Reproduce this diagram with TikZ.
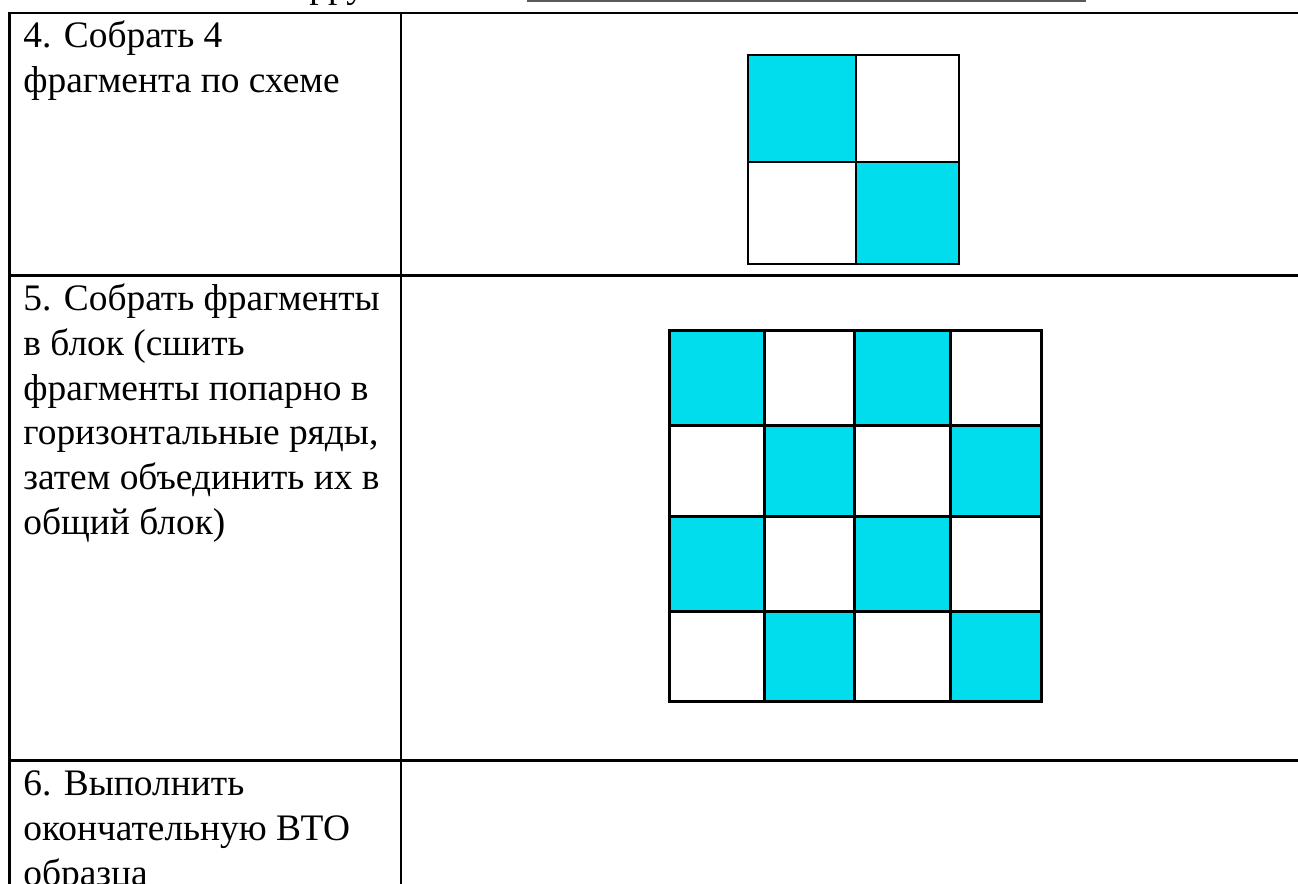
\documentclass[tikz,border=0pt]{standalone}
\usepackage{fontspec}
\setmainfont{Liberation Serif}
\definecolor{cellcyan}{RGB}{2,221,238}
\begin{document}
\begin{tikzpicture}[x=0.5pt,y=-0.5pt,
  tableline/.style={line width=1.35pt, black},
  celltext/.style={anchor=north west, inner sep=0pt, align=left, font=\fontsize{18.7}{22.4}\selectfont},
  hdrtext/.style={anchor=base west, inner sep=0pt, font=\fontsize{18.7}{22.4}\selectfont},
  smallgrid/.style={line width=0.9pt, black},
  biggrid/.style={line width=1.5pt, black},
  cyancell/.style={fill=cellcyan}]
\useasboundingbox (0,0) rectangle (1298,884);
\fill[white] (0,0) rectangle (1298,884);

% cut-off header line above the table
\node[hdrtext] (hdr) at (309,-3) {рру};
\draw[black!65, line width=1pt] (527,1) -- (1086,1);

% table rules
\draw[tableline] (8.2,13) -- (1305,13);
\draw[tableline] (9.5,13) -- (9.5,890);
\draw[tableline] (401,13) -- (401,890);
\draw[tableline] (9,275.5) -- (1305,275.5);
\draw[tableline] (9,760.5) -- (1305,760.5);

% left column texts
\node[celltext] (t4) at (23,17) {\rule{0pt}{15pt}4. Собрать 4\\фрагмента по схеме};
\node[celltext] (t5) at (23,280) {\rule{0pt}{15pt}5. Собрать фрагменты\\в блок (сшить\\фрагменты попарно в\\горизонтальные ряды,\\затем объединить их в\\общий блок)};
\node[celltext] (t6) at (23,765) {\rule{0pt}{15pt}6. Выполнить\\окончательную ВТО\\образца};

% 2x2 scheme
\fill[cyancell] (748,55) rectangle (856,162);
\fill[cyancell] (856,162) rectangle (959,264);
\draw[smallgrid] (748,55) rectangle (959,264);
\draw[smallgrid] (856,55) -- (856,264);
\draw[smallgrid] (748,162) -- (959,162);

% 4x4 block
\fill[cyancell] (669,330) rectangle (764,425);
\fill[cyancell] (854,330) rectangle (950,425);
\fill[cyancell] (764,425) rectangle (854,516);
\fill[cyancell] (950,425) rectangle (1041,516);
\fill[cyancell] (669,516) rectangle (764,611);
\fill[cyancell] (854,516) rectangle (950,611);
\fill[cyancell] (764,611) rectangle (854,701);
\fill[cyancell] (950,611) rectangle (1041,701);
\draw[biggrid] (669,330) rectangle (1041,701);
\foreach \gx in {764,854,950} {\draw[biggrid] (\gx,330) -- (\gx,701);}
\foreach \gy in {425,516,611} {\draw[biggrid] (669,\gy) -- (1041,\gy);}
\end{tikzpicture}
\end{document}
